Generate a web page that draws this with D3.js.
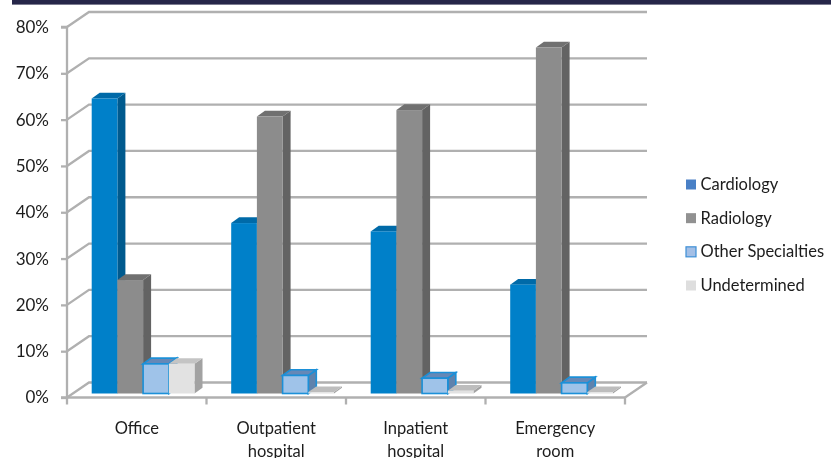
<!DOCTYPE html>
<html><head><meta charset="utf-8">
<script src="https://cdn.jsdelivr.net/npm/d3@7"></script>
<style>
html,body{margin:0;padding:0;background:#fff;overflow:hidden}
text{font-family:Lato,"Open Sans",sans-serif;fill:#1c1c1c}
</style></head><body>
<svg id="c" width="831" height="458"></svg>
<script>
const categories = ["Office", "Outpatient hospital", "Inpatient hospital", "Emergency room"];
const seriesNames = ["Cardiology", "Radiology", "Other Specialties", "Undetermined"];
const cardiology = [63.7, 36.8, 35, 23.5];
const radiology = [24.5, 59.8, 61.2, 74.7];
const otherSpecialties = [6.4, 3.9, 3.3, 2.3];
const undetermined = [6.4, 0.3, 0.6, 0.3];
const yTicks = [0, 10, 20, 30, 40, 50, 60, 70, 80];
const allSeries = [cardiology, radiology, otherSpecialties, undetermined];

const front = ["#0080c9", "#8c8c8c", "#9fc3e9", "#e2e2e2"];
const side = ["#005a8e", "#646464", "#5e82ac", "#a2a2a2"];
const topc = ["#006ba8", "#707070", "#6688b6", "#c4c4c4"];
const edge = [null, null, "#1a90d8", null];
const legendFill = ["#4a80c6", "#919191", "#a3bfe6", "#dedede"];
const legendEdge = [null, null, "#3d8fd6", null];

const svg = d3.select("#c");
const defs = svg.append("defs");
defs.append("filter").attr("id", "soft").append("feGaussianBlur").attr("stdDeviation", 0.45);
const g = svg.append("g").attr("filter", "url(#soft)");

// dark strip at the top edge
g.append("rect").attr("x", 12).attr("y", -3).attr("width", 825).attr("height", 7.6).attr("fill", "#25254a");

const gridCol = "#b0b0b0";
const wallDx = 22, wallDy = -15;
const left = 67, right = 625;
const y = d3.scaleLinear().domain([0, 80]).range([397.5, 27]);
const yBar = d3.scaleLinear().domain([0, 80]).range([393.5, 23]);
const x0 = d3.scaleBand().domain(categories).range([left, right]);
const x1 = d3.scaleBand().domain(seriesNames).range([24.7, 127.5]);

// back wall and side wall
const grid = g.append("g");
yTicks.forEach(t => {
  const yy = y(t);
  grid.append("path")
    .attr("d", d3.line()([[left, yy], [left + wallDx, yy + wallDy], [right + wallDx, yy + wallDy]]))
    .attr("fill", "none").attr("stroke", gridCol).attr("stroke-width", 2.3);
});
grid.append("path")
  .attr("d", d3.line()([[right, y(0)], [right + wallDx, y(0) + wallDy]]))
  .attr("fill", "none").attr("stroke", gridCol).attr("stroke-width", 2.3);

// axes
const yAxis = d3.axisLeft(y).tickValues(yTicks).tickFormat(d => d + "%").tickSize(6).tickPadding(12);
const yG = g.append("g").attr("transform", `translate(${left},0)`).call(yAxis);
const xAxis = d3.axisBottom(x0).tickSize(0).tickPadding(0).tickFormat("");
const xG = g.append("g").attr("transform", `translate(0,${y(0)})`).call(xAxis);
[yG, xG].forEach(s => s.selectAll(".domain,.tick line").attr("stroke", gridCol).attr("stroke-width", 2.3));
yG.selectAll(".domain").attr("d", `M-6,${y(80)}H0V${y(0)}H-6`);
xG.selectAll(".domain").attr("d", `M${left},0H${right}`);
yG.selectAll("text").attr("font-size", 17).attr("font-family", "Lato").attr("fill", "#1c1c1c");

// boundary ticks below the floor
const tickEdges = categories.map(c => x0(c)).concat([right]);
tickEdges.forEach(px => {
  xG.append("line").attr("x1", px).attr("x2", px).attr("y1", 0).attr("y2", 7)
    .attr("stroke", gridCol).attr("stroke-width", 2.3);
});

// category labels
categories.forEach(c => {
  const words = c.split(" ");
  const t = g.append("text").attr("text-anchor", "middle").attr("font-size", 16.5);
  words.forEach((w, i) => {
    t.append("tspan").attr("x", x0(c) + x0.step() / 2).attr("y", 433.5 + i * 23).text(w);
  });
});

// bars
const dx = 8, dy = -5.7;
const bars = g.append("g");
categories.forEach((c, ci) => {
  seriesNames.forEach((s, si) => {
    const v = allSeries[si][ci];
    const xa = x0(c) + x1(s), xb = xa + x1.bandwidth();
    const yt = yBar(v), yb = yBar(0);
    const line = d3.line();
    const st = edge[si] || "none", sw = edge[si] ? 1.6 : 0;
    bars.append("path").attr("d", line([[xb, yb], [xb + dx, yb + dy], [xb + dx, yt + dy], [xb, yt]]) + "Z")
      .attr("fill", side[si]).attr("stroke", st).attr("stroke-width", sw);
    bars.append("path").attr("d", line([[xa, yt], [xa + dx, yt + dy], [xb + dx, yt + dy], [xb, yt]]) + "Z")
      .attr("fill", v < 1 && si === 3 ? "#bdbdbd" : topc[si]).attr("stroke", st).attr("stroke-width", sw);
    bars.append("rect").attr("x", xa).attr("y", yt).attr("width", xb - xa).attr("height", yb - yt)
      .attr("fill", front[si]).attr("stroke", st).attr("stroke-width", sw);
  });
});

// legend
const legendY = d3.scalePoint().domain(seriesNames).range([184.5, 285.5]);
seriesNames.forEach((s, i) => {
  const yy = legendY(s);
  g.append("rect").attr("x", 686).attr("y", yy - 5).attr("width", 10).attr("height", 10)
    .attr("fill", legendFill[i]).attr("stroke", legendEdge[i] || "none").attr("stroke-width", legendEdge[i] ? 1.2 : 0);
  g.append("text").attr("x", 700.5).attr("y", yy + 5.5).attr("font-size", 16.5).text(s);
});
</script>
</body></html>
